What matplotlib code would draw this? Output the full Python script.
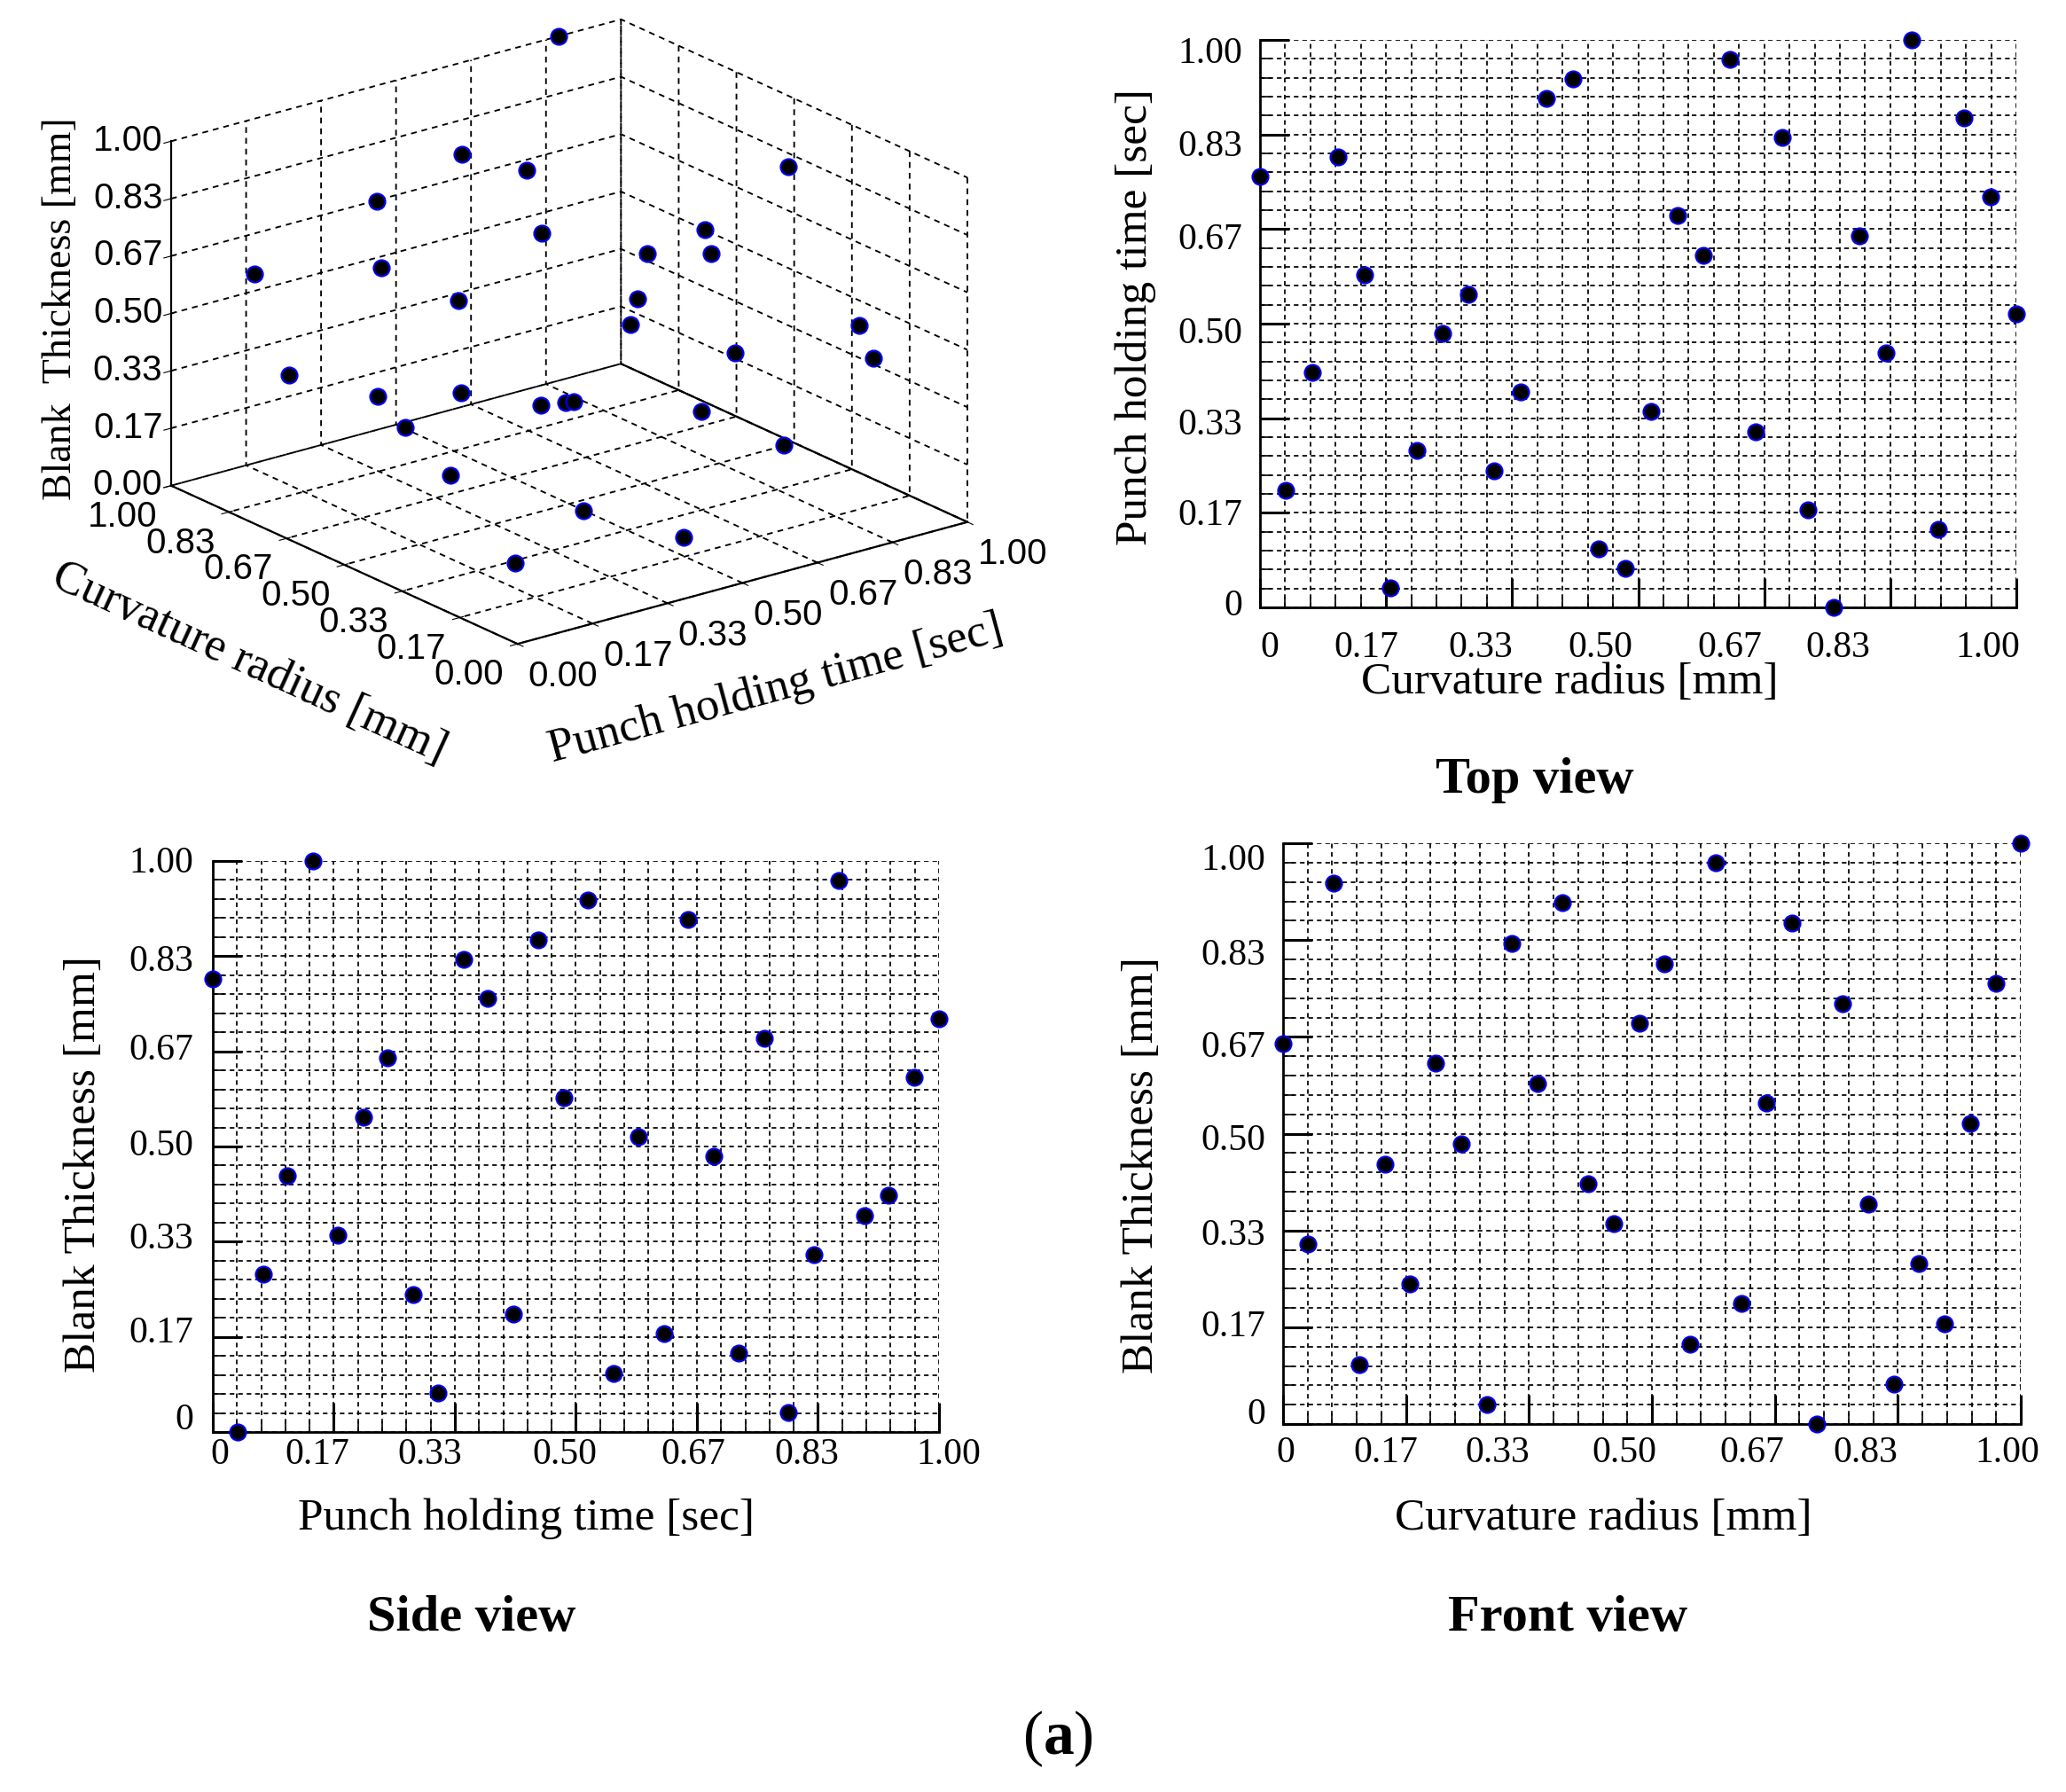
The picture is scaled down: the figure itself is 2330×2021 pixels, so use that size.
import itertools
import numpy as np
import matplotlib
matplotlib.use("Agg")
import matplotlib.pyplot as plt
from mpl_toolkits.mplot3d import proj3d

plt.rcParams['font.family'] = ['Liberation Serif', 'DejaVu Serif']
plt.rcParams['mathtext.fontset'] = 'custom'
plt.rcParams['mathtext.rm'] = 'Liberation Serif'
plt.rcParams['mathtext.bf'] = 'Liberation Serif:bold'
SANS = ['Liberation Sans Narrow', 'Liberation Sans', 'DejaVu Sans']

# ---------------- data (normalised design values) ----------------
curvature = [0.000, 0.034, 0.069, 0.103, 0.138, 0.172, 0.207, 0.241, 0.276, 0.310,
             0.345, 0.379, 0.414, 0.448, 0.483, 0.517, 0.552, 0.586, 0.621, 0.655,
             0.690, 0.724, 0.759, 0.793, 0.828, 0.862, 0.897, 0.931, 0.966, 1.000]
punch = [0.759, 0.172, 0.483, 0.448, 0.897, 0.724, 0.034, 0.310, 0.207, 0.655,
         0.517, 0.345, 0.069, 0.828, 0.241, 1.000, 0.276, 0.138, 0.586, 0.793,
         0.552, 0.966, 0.000, 0.103, 0.690, 0.931, 0.379, 0.414, 0.621, 0.862]
thickness = [0.655, 0.310, 0.931, 0.103, 0.448, 0.241, 0.621, 0.483, 0.034, 0.828,
             0.586, 0.897, 0.414, 0.345, 0.690, 0.793, 0.138, 0.966, 0.207, 0.552,
             0.862, 0.000, 0.724, 0.379, 0.069, 0.276, 0.172, 0.517, 0.759, 1.000]

# side view (as printed in the figure)
side_punch = [0.138, 0.862, 0.517, 0.655, 0.448, 0.345, 0.000, 0.379, 1.000, 0.759,
              0.241, 0.966, 0.483, 0.207, 0.586, 0.690, 0.103, 0.931, 0.897, 0.172,
              0.828, 0.069, 0.276, 0.414, 0.621, 0.724, 0.552, 0.310, 0.793, 0.034]
side_thickness = [1.000, 0.966, 0.931, 0.897, 0.862, 0.828, 0.793, 0.759, 0.724, 0.690,
                  0.655, 0.621, 0.586, 0.552, 0.517, 0.483, 0.448, 0.414, 0.379, 0.345,
                  0.310, 0.276, 0.241, 0.207, 0.172, 0.138, 0.103, 0.069, 0.034, 0.000]

LAB2D = ['0', '0.17', '0.33', '0.50', '0.67', '0.83', '1.00']
LAB3D = ['0.00', '0.17', '0.33', '0.50', '0.67', '0.83', '1.00']

# ---------------- layout ----------------
W, H = 2330, 2021
MAJOR = np.linspace(0, 1, 7)
MINOR = [k / 30 for k in range(31) if k % 5]

fig = plt.figure(figsize=(W / 100, H / 100), dpi=100)

MARK = dict(s=170, c='black', edgecolors='blue', linewidths=1.5, zorder=5, clip_on=False)


def rect(l, r, t, b):
    return [l / W, 1 - b / H, (r - l) / W, (b - t) / H]


def view2d(rc, x, y, xlabel, ylabel, xlab_xy, ylab_xy, xt_pos, yt_pos, xt_off, yt_off):
    ax = fig.add_axes(rc)
    ax.set_xlim(0, 1)
    ax.set_ylim(0, 1)
    ax.set_axisbelow(True)
    ax.set_xticks(MAJOR)
    ax.set_yticks(MAJOR)
    ax.set_xticks(MINOR, minor=True)
    ax.set_yticks(MINOR, minor=True)
    ax.tick_params(which='major', direction='in', length=24, width=2.2,
                   labelbottom=False, labelleft=False)
    ax.tick_params(which='minor', direction='in', length=9, width=1.2)
    ax.grid(True, which='both', color='black', linestyle=(0, (3, 2.5)), linewidth=1.25)
    for s in ('top', 'right'):
        ax.spines[s].set_visible(False)
    for s in ('left', 'bottom'):
        ax.spines[s].set_linewidth(2)
    ax.scatter(x, y, **MARK)
    for p, t in zip(xt_pos, LAB2D):
        ax.text(p, xt_off, t, transform=ax.transAxes, ha='center', va='center', fontsize=30)
    for p, t in zip(yt_pos, LAB2D):
        ax.text(yt_off, p, t, transform=ax.transAxes, ha='right', va='center', fontsize=30)
    ax.set_xlabel(xlabel, fontsize=37, va='center')
    ax.xaxis.set_label_coords(*xlab_xy)
    ax.set_ylabel(ylabel, fontsize=37, va='center')
    ax.yaxis.set_label_coords(*ylab_xy)
    return ax


# Top view
view2d(rect(1421, 2274, 45, 685), punch, curvature,
       'Curvature radius [mm]', 'Punch holding time [sec]',
       (0.41, -0.133), (-0.165, 0.5125),
       [0.013, 0.141, 0.292, 0.45, 0.621, 0.764, 0.962],
       [0.002, 0.162, 0.321, 0.481, 0.648, 0.811, 0.975],
       -0.071, -0.023)

# Side view
view2d(rect(240, 1059, 971, 1615), side_punch, side_thickness,
       'Punch holding time [sec]', 'Blank Thickness [mm]',
       (0.432, -0.152), (-0.177, 0.469),
       [0.009, 0.144, 0.299, 0.485, 0.661, 0.818, 1.013],
       [0.021, 0.172, 0.337, 0.5, 0.668, 0.823, 0.995],
       -0.040, -0.027)

# Front view
view2d(rect(1447, 2279, 951, 1606), curvature, thickness,
       'Curvature radius [mm]', 'Blank Thickness [mm]',
       (0.434, -0.163), (-0.192, 0.446),
       [0.003, 0.139, 0.291, 0.463, 0.635, 0.79, 0.982],
       [0.015, 0.167, 0.324, 0.487, 0.648, 0.807, 0.97],
       -0.050, -0.024)

# ---------------- 3D view ----------------
S = 1000
TARGET_W = 898.0
TARGET_C = (642.0, H - 374.0)
BOX = (1, 1, 0.648)
ax3 = fig.add_axes([(TARGET_C[0] - S / 2) / W, (TARGET_C[1] - S / 2) / H, S / W, S / H],
                   projection='3d')
ax3.set_proj_type('ortho')
ax3.view_init(elev=20.6, azim=-127.6)
ax3.set_box_aspect(BOX)
ax3.set_xlim(0, 1)
ax3.set_ylim(0, 1)
ax3.set_zlim(0, 1)
ax3.set_facecolor('none')
for axis in (ax3.xaxis, ax3.yaxis, ax3.zaxis):
    axis.set_pane_color((1, 1, 1, 0))
    axis._axinfo['grid'].update(color='black', linestyle=(0, (3.5, 3)), linewidth=1.35)
    axis.line.set_linewidth(1.6)
    axis.line.set_color('black')
ax3.set_xticks(MAJOR)
ax3.set_yticks(MAJOR)
ax3.set_zticks(MAJOR)
ax3.set_xticklabels(LAB3D)
ax3.set_yticklabels(LAB3D)
ax3.set_zticklabels(LAB3D)
ax3.tick_params(axis='both', labelsize=29, labelfontfamily=SANS)
ax3.tick_params(axis='z', labelsize=29, labelfontfamily=SANS, pad=-4)
for lbl in ax3.get_xticklabels():      # punch holding time axis
    lbl.set_ha('left')
for lbl in ax3.get_yticklabels():      # curvature radius axis
    lbl.set_ha('right')
for lbl in ax3.get_zticklabels():
    lbl.set_ha('right')
    lbl.set_va('center')
ax3.scatter(punch, curvature, thickness, depthshade=False, **MARK)
ax3.plot([1, 1], [1, 0], [0, 0], color='black', linewidth=1.6)
ax3.set_xlabel('Punch holding time [sec]' + '\u2007' * 3, fontsize=38, labelpad=52)
ax3.set_ylabel('Curvature radius [mm]', fontsize=38, labelpad=58)
ax3.set_zlabel('Blank  Thickness [mm]', fontsize=33, labelpad=31)


def box_pixels():
    M = ax3.get_proj()
    c = np.array(list(itertools.product([0, 1], [0, 1], [0, 1])), float)
    xs, ys, _ = proj3d.proj_transform(c[:, 0], c[:, 1], c[:, 2], M)
    return ax3.transData.transform(np.column_stack([xs, ys]))


fig.canvas.draw()
pix = box_pixels()
zoom = TARGET_W / (pix[:, 0].max() - pix[:, 0].min())
ax3.set_box_aspect(BOX, zoom=zoom)
fig.canvas.draw()
pix = box_pixels()
cx = (pix[:, 0].max() + pix[:, 0].min()) / 2
cy = (pix[:, 1].max() + pix[:, 1].min()) / 2
pos = ax3.get_position(original=True)
ax3.set_position([pos.x0 + (TARGET_C[0] - cx) / W, pos.y0 + (TARGET_C[1] - cy) / H,
                  pos.width, pos.height])

# ---------------- captions ----------------
fig.text(0.7429, 0.5646, 'Top view', ha='center', va='center', fontsize=42, fontweight='bold')
fig.text(0.2283, 0.0970, 'Side view', ha='center', va='center', fontsize=42, fontweight='bold')
fig.text(0.7588, 0.0970, 'Front view', ha='center', va='center', fontsize=42, fontweight='bold')
fig.text(0.512, 0.0297, r'($\mathbf{a}$)', ha='center', va='center', fontsize=50)

fig.savefig('out.png', dpi=100)
